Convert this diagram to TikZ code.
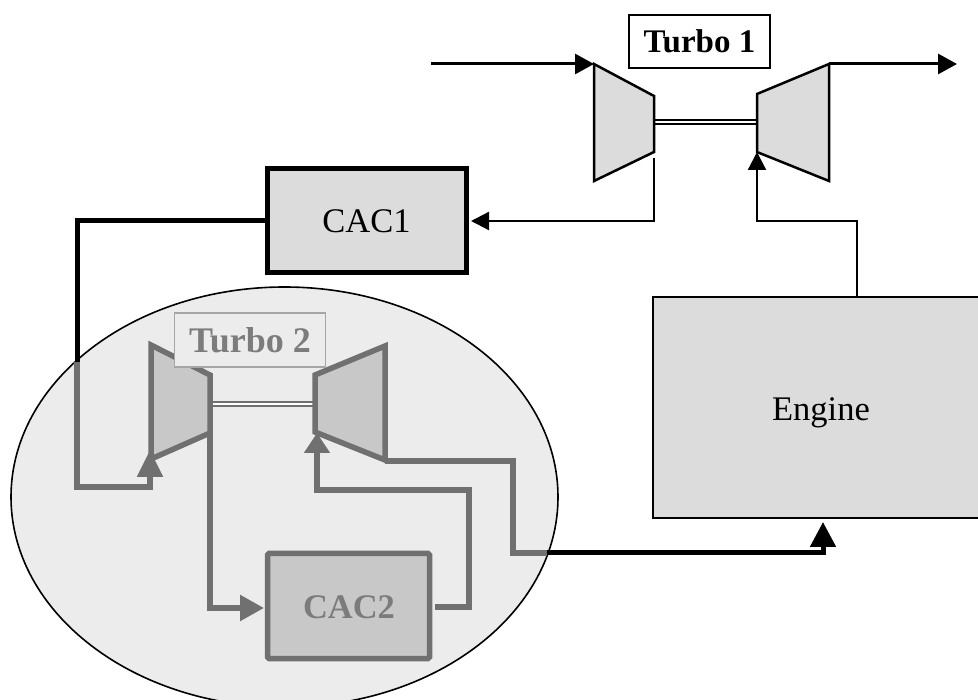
\documentclass[tikz,border=0pt]{standalone}
\usepackage{fontspec}
\setmainfont{Liberation Serif}
\usetikzlibrary{arrows.meta,shapes.geometric}
\definecolor{fillA}{HTML}{DCDCDC}
\definecolor{fillB}{HTML}{C8C8C8}
\definecolor{haze}{HTML}{ECECEC}
\definecolor{dim}{HTML}{707070}
\definecolor{dimtext}{HTML}{7C7C7C}
\tikzset{
  boxnode/.style={draw,rectangle,inner sep=0pt,outer sep=0pt,align=center},
  bigtext/.style={font=\fontsize{34.5}{38}\selectfont},
  tagtext/.style={font=\fontsize{33}{36}\selectfont\bfseries},
  machine/.style={draw=black,fill=fillA,line width=2.5pt,line join=miter},
  dimmachine/.style={draw=dim,fill=fillB,line width=5.5pt,line join=miter},
  thin arrow/.style={draw=black,line width=2.2pt,-{Triangle[length=18pt,width=18pt]}},
  thick arrow/.style={draw=black,line width=3pt,-{Triangle[length=19pt,width=20pt]}},
  dim link/.style={draw=dim,line width=5.5pt,line join=miter},
  dim arrow/.style={dim link,-{Triangle[length=#1,width=25pt]}},
  bold link/.style={draw=black,line width=5pt,line join=miter},
  shaft/.style={draw=#1,line width=1.6pt,double=white,double distance=2.2pt}
}
\begin{document}
\begin{tikzpicture}[x=1pt,y=-1pt]
\useasboundingbox (0,0) rectangle (978,700);
\fill[white] (0,0) rectangle (978,700);

% named points
\coordinate (c1a) at (594,64); \coordinate (c1b) at (654,96);
\coordinate (c1c) at (654,152); \coordinate (c1d) at (594,181);
\coordinate (t1a) at (757,94); \coordinate (t1b) at (829,64);
\coordinate (t1c) at (829,181); \coordinate (t1d) at (757,152);
\coordinate (c2a) at (151,345); \coordinate (c2b) at (210,375);
\coordinate (c2c) at (210,433); \coordinate (c2d) at (151,459);
\coordinate (t2a) at (315,375); \coordinate (t2b) at (385,346);
\coordinate (t2c) at (385,460); \coordinate (t2d) at (315,432);
\coordinate (in) at (431,64); \coordinate (out) at (957,64);
\coordinate (edgeA) at (77,362); \coordinate (edgeB) at (547,553);
\coordinate (c1out) at (654,158); \coordinate (c2in) at (150,450);
\coordinate (t2in) at (317,433);
\coordinate (cac1in) at (471,221); \coordinate (cac2in) at (264,608);
\coordinate (engin) at (823,522);

% haze ellipse
\draw[draw=black,fill=haze,line width=1.6pt] (284.5,497) ellipse [x radius=273.5,y radius=210];

% boxes
\node[boxnode,fill=fillA,line width=5pt,minimum width=199pt,minimum height=104pt] (cac1) at (366.5,221) {};
\node[bigtext] (cac1text) at (cac1.center) {CAC1};
\node[boxnode,fill=fillA,line width=2.5pt,minimum width=340pt,minimum height=221pt] (engine) at (823,407.5) {};
\node[bigtext] (enginetext) at (821,413) {Engine};
\node[boxnode,draw=dim,fill=fillB,line width=5.5pt,rounded corners=1.5pt,minimum width=162pt,minimum height=105pt] (cac2) at (348.5,606) {};
\node[font=\fontsize{34.5}{38}\selectfont\bfseries,text=dimtext] (cac2text) at (349,607) {CAC2};

% turbo 1
\draw[shaft=black] (c1b |- 0,122) -- (t1a |- 0,122);
\draw[machine] (c1a) -- (c1b) -- (c1c) -- (c1d) -- cycle;
\draw[machine] (t1a) -- (t1b) -- (t1c) -- (t1d) -- cycle;
\node[boxnode,tagtext,fill=white,line width=1.5pt,minimum width=141pt,minimum height=53pt] (tag1) at (699.5,41.5) {Turbo 1};

% turbo 2
\draw[shaft=dim] (c2b |- 0,404) -- (t2a |- 0,404);
\draw[dimmachine] (c2a) -- (c2b) -- (c2c) -- (c2d) -- cycle;
\draw[dimmachine] (t2a) -- (t2b) -- (t2c) -- (t2d) -- cycle;
\node[boxnode,font=\fontsize{36}{38}\selectfont\bfseries,text=dimtext,draw=gray!70,fill=haze,line width=1.5pt,minimum width=151pt,minimum height=54pt] (tag2) at (250,340) {Turbo 2};

% black connectors
\draw[thick arrow] (in) -- (c1a);
\draw[thick arrow] (t1b) -- (out);
\draw[thin arrow] (c1out) |- (cac1in);
\draw[thin arrow] (engine.north -| 857,0) |- (757,221) -- (t1d);
\draw[bold link] (cac1.west) -| (edgeA);
\draw[bold link,-{Triangle[length=25pt,width=25pt]}] (edgeB) -| (engin);

% dim connectors
\draw[dim arrow=27pt] (edgeA) |- (150,487) -- (c2in);
\draw[dim arrow=24pt] (c2c) |- (cac2in);
\draw[dim arrow=20pt] (cac2.east) ++(5,1) -- (469,607) |- (317,490) -- (t2in);
\draw[dim link] (t2c) ++(0,1) -| (513,553) -- (edgeB);
\end{tikzpicture}
\end{document}
